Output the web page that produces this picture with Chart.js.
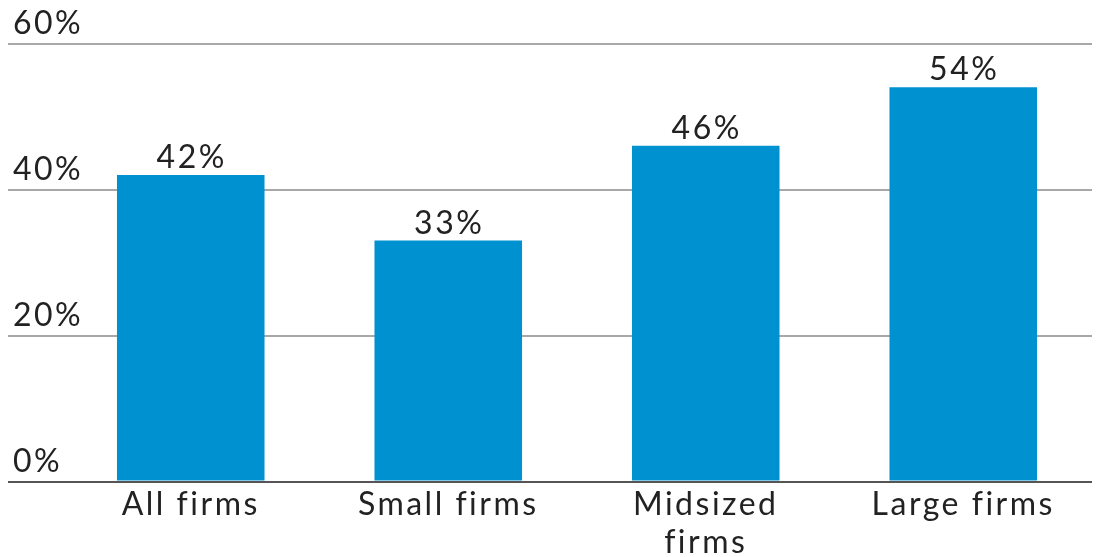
<!DOCTYPE html>
<html>
<head>
<meta charset="utf-8">
<script src="https://cdn.jsdelivr.net/npm/chart.js@4"></script>
<style>
  html, body { margin: 0; padding: 0; background: #ffffff; }
  #wrap { width: 1097px; height: 557px; position: relative; }
</style>
</head>
<body>
<div id="wrap"><canvas id="c"></canvas></div>
<script>
const categories = [["All firms"], ["Small firms"], ["Midsized", "firms"], ["Large firms"]];
const shareValues = [42, 33, 46, 54];
const yTicks = [0, 20, 40, 60];

const FONT = "Lato, 'Open Sans', sans-serif";
const TEXT = "#222222";
const SPACING = "2.5px";

const spacingPlugin = {
  id: "spacing",
  beforeLayout(chart) { chart.ctx.letterSpacing = SPACING; },
  beforeDraw(chart) { chart.ctx.letterSpacing = SPACING; }
};

const valueLabels = {
  id: "valueLabels",
  afterDatasetsDraw(chart) {
    const ctx = chart.ctx;
    const meta = chart.getDatasetMeta(0);
    ctx.save();
    ctx.letterSpacing = SPACING;
    ctx.font = "32px " + FONT;
    ctx.fillStyle = TEXT;
    ctx.textAlign = "center";
    ctx.textBaseline = "alphabetic";
    meta.data.forEach((bar, i) => {
      ctx.fillText(shareValues[i] + "%", bar.x + 1, bar.y - 7);
    });
    ctx.restore();
  }
};

new Chart(document.getElementById("c"), {
  type: "bar",
  data: {
    labels: categories,
    datasets: [{
      data: shareValues,
      backgroundColor: "#0092D0",
      borderWidth: 0,
      barPercentage: 0.573,
      categoryPercentage: 1.0
    }]
  },
  options: {
    responsive: true,
    maintainAspectRatio: false,
    animation: false,
    layout: { padding: { top: 43.5, left: 8, right: 5, bottom: 0 } },
    plugins: { legend: { display: false }, tooltip: { enabled: false } },
    scales: {
      x: {
        grid: { display: false, drawTicks: false },
        border: { display: false },
        ticks: { color: TEXT, font: { family: FONT, size: 32 }, padding: 4, maxRotation: 0, autoSkip: false },
        afterFit(scale) { scale.height = 75.5; }
      },
      y: {
        min: 0, max: 60,
        afterBuildTicks(scale) { scale.ticks = yTicks.map(v => ({ value: v })); },
        grid: {
          color: (c) => (c.tick && c.tick.value === 0 ? "#555555" : "#a8a8a8"),
          lineWidth: 2,
          tickLength: 54,
          drawTicks: true
        },
        border: { display: false },
        ticks: {
          mirror: true,
          padding: -49,
          labelOffset: -20,
          color: TEXT,
          font: { family: FONT, size: 32 },
          callback: (v) => v + "%"
        },
        afterFit(scale) { scale.width = 54; }
      }
    }
  },
  plugins: [spacingPlugin, valueLabels]
});
</script>
</body>
</html>
